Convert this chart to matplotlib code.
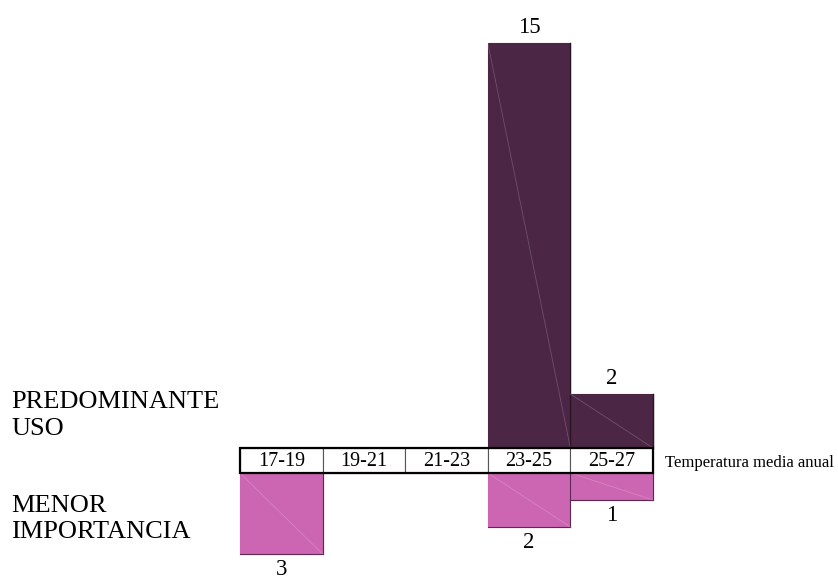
import matplotlib
matplotlib.use("Agg")
import matplotlib.pyplot as plt
from matplotlib.patches import Rectangle

plt.rcParams['font.family'] = ['Liberation Serif', 'DejaVu Serif']

# Temperature classes (°C) and counts per use level
categories = ["17-19", "19-21", "21-23", "23-25", "25-27"]
predominante = [0, 0, 0, 15, 2]
menor = [3, 0, 0, 2, 1]

dark = "#4B2645"
pink = "#CC66B2"

fig = plt.figure(figsize=(8.38, 5.80), dpi=100)
ax = fig.add_axes([0, 0, 1, 1])

cell_w_px = 82.6
unit_px = 27.0
left_px = 240.0
base_px = 448.0   # top edge of the category row, from image top
row_h = 25.0 / unit_px


def px_x(p):
    return (p - left_px) / cell_w_px


def px_y(p):
    return (base_px - p) / unit_px


ax.set_xlim(px_x(0), px_x(838))
ax.set_ylim(px_y(580), px_y(0))
ax.axis('off')

x = list(range(len(categories)))

# Upper bars: predominant use
bars_up = ax.bar(x, predominante, width=1.0, bottom=0, align='edge',
                 color=dark, edgecolor=dark, linewidth=0.8, zorder=2)
# Lower bars: minor importance (drawn downward below the row)
bars_dn = ax.bar(x, [-v for v in menor], width=1.0, bottom=-row_h, align='edge',
                 color=pink, edgecolor=pink, linewidth=0.8, zorder=2)

# thin right-hand edges
for b, v in zip(bars_up, predominante):
    if v:
        ax.plot([b.get_x() + 1, b.get_x() + 1], [0, v], color="#2a1426", lw=1.0, zorder=3)
for b, v in zip(bars_dn, menor):
    if v:
        ax.plot([b.get_x() + 1, b.get_x() + 1], [-row_h, -row_h - v], color="#5a2a50", lw=0.8, zorder=3)
        ax.plot([b.get_x(), b.get_x() + 1], [-row_h - v, -row_h - v], color="#5a2a50", lw=0.8, zorder=3)

# faint diagonal strokes across the filled bars
for i, v in enumerate(predominante):
    if v:
        ax.plot([i, i + 1], [v, 0], color="white", alpha=0.2, lw=0.6, zorder=3)
for i, v in enumerate(menor):
    if v:
        ax.plot([i, i + 1], [-row_h, -row_h - v], color="white", alpha=0.2, lw=0.6, zorder=3)

# Category row
for i, c in enumerate(categories):
    ax.add_patch(Rectangle((i, -row_h), 1, row_h, facecolor="white",
                           edgecolor="#555555", lw=0.8, zorder=4))
    ax.text(i + 0.5, px_y(466), c, ha='center', va='baseline', fontsize=14.5, zorder=5)
ax.add_patch(Rectangle((0, -row_h), len(categories), row_h, facecolor="none",
                       edgecolor="black", lw=1.6, zorder=5))

ax.text(px_x(665), px_y(467), "Temperatura media anual",
        ha='left', va='baseline', fontsize=12)

# Value labels
off_up = 10 / unit_px
off_dn = 21 / unit_px
for i, v in enumerate(predominante):
    if v:
        ax.text(i + 0.5, v + off_up, str(v), ha='center', va='baseline', fontsize=16.5)
for i, v in enumerate(menor):
    if v:
        ax.text(i + 0.5, -row_h - v - off_dn, str(v), ha='center', va='baseline', fontsize=16.5)

# Side labels
for txt, base in [("PREDOMINANTE", 408), ("USO", 435),
                  ("MENOR", 512), ("IMPORTANCIA", 538)]:
    ax.text(px_x(11), px_y(base), txt, ha='left', va='baseline', fontsize=19)

fig.savefig("out.png", dpi=100)
